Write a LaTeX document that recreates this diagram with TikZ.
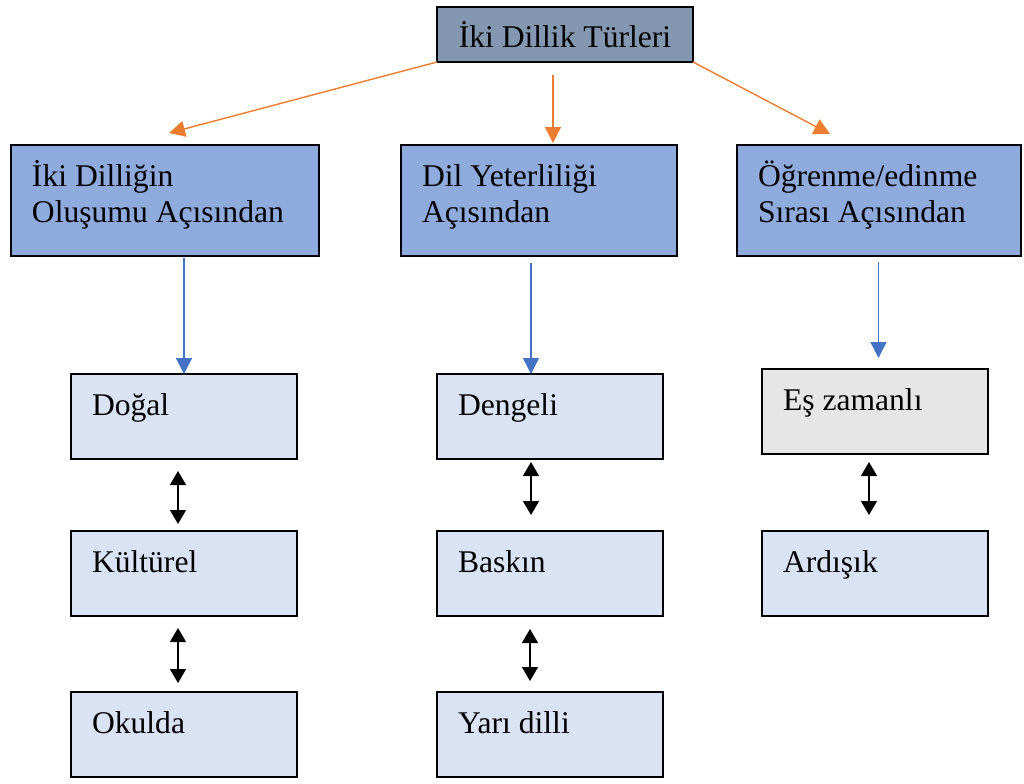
\documentclass[tikz,border=0pt]{standalone}
\usepackage{fontspec}
\setmainfont{Liberation Serif}
\usetikzlibrary{arrows.meta,positioning}
\definecolor{ustgri}{HTML}{8497B0}
\definecolor{orta}{HTML}{8FAADC}
\definecolor{acik}{HTML}{DAE3F3}
\definecolor{gri}{HTML}{E7E6E6}
\definecolor{turuncu}{HTML}{ED7D31}
\definecolor{mavi}{HTML}{4472C4}
% text at the top left of a box: height, width, text
\newcommand{\metin}[3]{\parbox[c][#1][t]{#2}{\rule{0pt}{20.5pt}#3}}
\tikzset{
  kutu/.style={draw=black, line width=1.2pt, anchor=north west, outer sep=0pt,
    inner xsep=10.5pt, inner ysep=0pt},
  turok/.style={draw=turuncu, line width=0.7pt, -{Triangle[length=8pt,width=8pt]}},
  maviok/.style={draw=mavi, line width=0.7pt, -{Triangle[length=8pt,width=8pt]}},
  cift/.style={draw=black, line width=0.7pt,
    {Triangle[length=7pt,width=8pt]}-{Triangle[length=7pt,width=8pt]}}
}

\begin{document}
\begin{tikzpicture}[x=0.5pt, y=-0.5pt, font=\fontsize{15.8}{18}\selectfont]
  \useasboundingbox (0,0) rectangle (1024,783);
  \node[kutu, fill=ustgri, inner sep=0pt, minimum width=128pt, minimum height=27.5pt]
    (top) at (437,7) {İki Dillik Türleri};
  % three headings
  \node[kutu, fill=orta] (b1) at (11,145)  {\metin{55.5pt}{133pt}{İki Dilliğin\\Oluşumu Açısından}};
  \node[kutu, fill=orta] (b2) at (401,145) {\metin{55.5pt}{117pt}{Dil Yeterliliği\\Açısından}};
  \node[kutu, fill=orta] (b3) at (737,145) {\metin{55.5pt}{121pt}{Öğrenme/edinme\\Sırası Açısından}};
  % the types
  \foreach \x/\y/\id/\renk/\yazi in {71/374/d1/acik/Doğal, 71/531/k1/acik/Kültürel, 71/692/o1/acik/Okulda,
      437/374/d2/acik/Dengeli, 437/531/k2/acik/Baskın, 437/692/o2/acik/Yarı dilli,
      762/369/d3/gri/Eş zamanlı, 762/531/k3/acik/Ardışık}{
    \node[kutu, fill=\renk] (\id) at (\x,\y) {\metin{42.5pt}{92pt}{\yazi}};
  }
  \draw[turok] (top.south west) -- ([shift={(2pt,6pt)}]b1.north);
  \draw[turok] ([shift={(-6pt,-6.5pt)}]top.south) -- ([shift={(7pt,1pt)}]b2.north);
  \draw[turok] (top.south east) -- ([shift={(-24.5pt,5.5pt)}]b3.north);
  \draw[maviok, shorten <=1pt] (d1.north |- b1.south) -- (d1.north);
  \draw[maviok, shorten <=3.5pt] ([xshift=-9.5pt]d2.north |- b2.south) -- ([xshift=-9.5pt]d2.north);
  \draw[maviok, shorten <=3pt, shorten >=5.5pt] ([xshift=1.75pt]d3.north |- b3.south) -- ([xshift=1.75pt]d3.north);
  \foreach \a/\b/\dx/\s/\e in {d1/k1/-3pt/6pt/3.5pt, k1/o1/-3pt/6pt/4.5pt, d2/k2/-9.5pt/1.5pt/8pt,
      k2/o2/-10pt/6.5pt/5.5pt, d3/k3/-3pt/4pt/8pt}{
    \draw[cift, shorten <=\s, shorten >=\e] ([xshift=\dx]\a.south) -- ([xshift=\dx]\b.north);
  }
\end{tikzpicture}
\end{document}
